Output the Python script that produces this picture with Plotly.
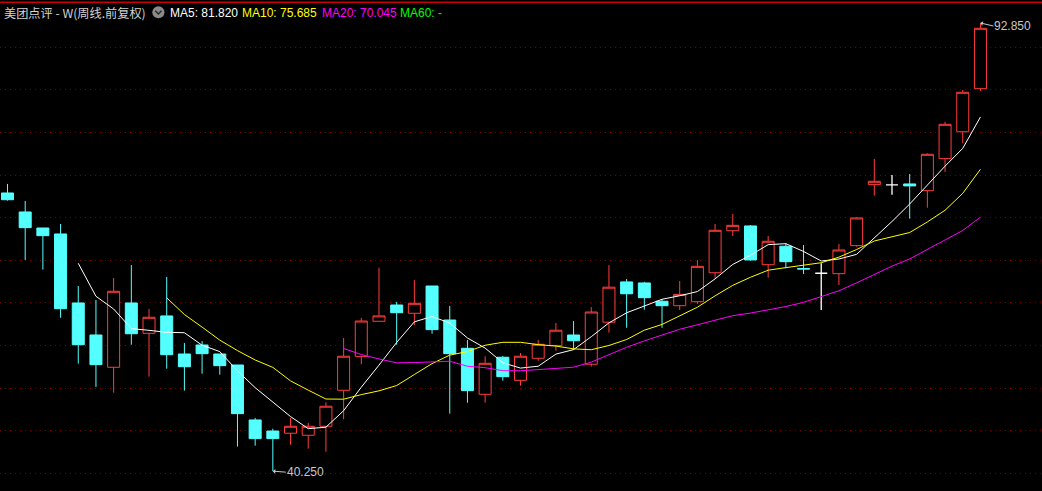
import plotly.graph_objects as go
import pandas as pd

# ---- data (weekly candles, pre-adjusted) ----
idx = list(range(56))
opens = [72.90, 70.67, 68.79, 68.09, 59.99, 56.23, 52.44, 59.99, 56.43, 58.47,
         54.00, 55.06, 54.00, 52.71, 46.26, 44.96, 44.70, 44.46, 45.52, 49.74,
         53.69, 57.84, 59.75, 58.78, 61.98, 57.99, 54.67, 49.27, 53.62, 50.91,
         53.50, 54.98, 56.23, 52.80, 57.73, 62.46, 62.34, 60.19, 59.67, 60.14,
         63.54, 68.47, 69.03, 64.48, 66.65, 64.03, 63.48, 63.43, 66.72, 73.88,
         73.84, 73.96, 73.17, 76.93, 80.09, 85.14]
highs = [73.96, 71.96, 68.79, 69.26, 61.98, 60.34, 62.92, 64.44, 59.29, 63.04,
         55.30, 55.52, 54.00, 52.71, 46.50, 45.23, 46.50, 45.90, 48.33, 55.88,
         58.23, 64.13, 60.11, 62.69, 61.98, 59.63, 55.64, 53.74, 53.77, 54.12,
         55.64, 57.64, 57.87, 59.51, 64.44, 62.80, 62.46, 60.42, 62.57, 65.04,
         69.26, 70.43, 69.14, 67.85, 66.99, 66.79, 64.65, 66.91, 70.08, 76.89,
         75.01, 75.13, 77.56, 81.24, 84.99, 92.85]
lows = [72.00, 65.04, 63.90, 58.26, 52.87, 50.13, 49.46, 55.09, 51.34, 52.27,
        49.70, 51.69, 51.57, 43.13, 43.24, 40.25, 43.35, 42.89, 42.53, 46.34,
        52.80, 57.84, 55.09, 57.37, 56.38, 47.00, 48.28, 48.28, 50.87, 50.28,
        53.21, 54.39, 54.48, 52.51, 56.50, 57.08, 59.20, 57.08, 59.17, 59.87,
        62.88, 67.85, 64.96, 62.96, 64.06, 63.40, 59.17, 62.10, 66.60, 72.58,
        72.70, 69.89, 71.17, 75.37, 78.74, 84.87]
closes = [72.11, 68.83, 67.89, 59.32, 55.09, 52.75, 61.36, 56.38, 58.31, 53.92,
          52.51, 54.04, 52.63, 47.00, 44.07, 44.07, 45.52, 45.52, 47.87, 53.74,
          57.87, 58.47, 58.85, 59.95, 56.86, 54.04, 49.70, 52.91, 51.34, 53.74,
          55.14, 56.79, 55.56, 58.93, 61.84, 61.07, 60.61, 59.67, 61.00, 64.29,
          68.52, 69.10, 65.04, 67.23, 64.84, 63.98, 63.48, 66.21, 69.97, 74.27,
          73.84, 73.73, 77.44, 80.96, 84.72, 92.23]

title_text = "美团点评 - W(周线.前复权)"
ma_labels = ["MA5: 81.820", "MA10: 75.685", "MA20: 70.045", "MA60: -"]
high_label = "92.850"
low_label = "40.250"
grid_levels = [40, 45, 50, 55, 60, 65, 70, 75, 80, 85, 90]

RED = "#ff3c3c"
CYAN = "#54ffff"
W, H = 1042, 491

df = pd.DataFrame({"x": idx, "o": opens, "h": highs, "l": lows, "c": closes})
ma5 = df["c"].rolling(5).mean()
ma10 = df["c"].rolling(10).mean()
ma20 = df["c"].rolling(20).mean()

doji = df[df["o"] == df["c"]]
main = df[df["o"] != df["c"]]

fig = go.Figure()
fig.add_trace(go.Candlestick(
    x=main["x"], open=main["o"], high=main["h"], low=main["l"], close=main["c"],
    increasing=dict(line=dict(color=RED, width=1), fillcolor="#000000"),
    decreasing=dict(line=dict(color=CYAN, width=1), fillcolor=CYAN),
    whiskerwidth=0, showlegend=False, hoverinfo="skip"))
fig.add_trace(go.Candlestick(
    x=doji["x"], open=doji["o"], high=doji["h"], low=doji["l"], close=doji["c"],
    increasing=dict(line=dict(color="#ffffff", width=1.3), fillcolor="#ffffff"),
    decreasing=dict(line=dict(color="#ffffff", width=1.3), fillcolor="#ffffff"),
    whiskerwidth=0, showlegend=False, hoverinfo="skip"))

for s, col in [(ma5, "#ffffff"), (ma10, "#ffff00"), (ma20, "#ff00ff")]:
    fig.add_trace(go.Scatter(x=idx, y=s, mode="lines",
                             line=dict(color=col, width=1),
                             showlegend=False, hoverinfo="skip"))

def px_x(p):
    return p / W

def px_y(p):
    return 1 - p / H

shapes = [
    dict(type="line", xref="paper", yref="paper", x0=0, x1=1,
         y0=px_y(2.3), y1=px_y(2.3), line=dict(color="#c80000", width=1.5)),
    dict(type="circle", xref="paper", yref="paper",
         x0=px_x(152.3), x1=px_x(164.5), y0=px_y(18.3), y1=px_y(6.3),
         fillcolor="#8a8a8a", line=dict(width=0)),
    dict(type="path", xref="paper", yref="paper",
         path=f"M {px_x(155.3)},{px_y(10.8)} L {px_x(158.4)},{px_y(14)} L {px_x(161.5)},{px_y(10.8)}",
         line=dict(color="#2a2a2a", width=1.5)),
]

ann = [
    dict(text=title_text, x=px_x(2), y=px_y(12.5), xref="paper", yref="paper",
         xanchor="left", yanchor="middle", showarrow=False,
         font=dict(family="Noto Sans CJK SC", size=12.2, color="#d2d2d2")),
]
for lab, xpos, col in zip(ma_labels, [168, 240, 320, 398],
                          ["#ffffff", "#ffff00", "#ff00ff", "#00ff00"]):
    ann.append(dict(text=lab, x=px_x(xpos), y=px_y(12.5), xref="paper", yref="paper",
                    xanchor="left", yanchor="middle", showarrow=False,
                    font=dict(family="Liberation Sans", size=12, color=col)))

hi_i = highs.index(max(highs))
lo_i = lows.index(min(lows))
for lab, xi, yv, ay in [(high_label, hi_i, max(highs), 3), (low_label, lo_i, min(lows), 1)]:
    ann.append(dict(text=lab, x=xi, y=yv, xref="x", yref="y",
                    showarrow=True, ax=13, ay=ay, xanchor="left", yanchor="middle",
                    arrowhead=1, arrowsize=0.8, arrowwidth=1, arrowcolor="#c8c8c8",
                    standoff=0, startstandoff=0, borderpad=0,
                    font=dict(family="Liberation Sans", size=12, color="#c8c8c8")))

fig.update_layout(
    width=W, height=H, margin=dict(l=0, r=0, t=0, b=0),
    paper_bgcolor="#000000", plot_bgcolor="#000000",
    boxgap=0.3, boxgroupgap=0.03,
    shapes=shapes, annotations=ann, showlegend=False,
    xaxis=dict(range=[-0.424, 58.48], visible=False, rangeslider=dict(visible=False),
               showgrid=False, zeroline=False, fixedrange=True),
    yaxis=dict(range=[37.92, 95.55], showticklabels=False, ticks="",
               tickmode="array", tickvals=grid_levels, showgrid=True,
               gridcolor="#7a0000", gridwidth=1, griddash="1px,4px",
               zeroline=False, showline=False, fixedrange=True),
)

fig.write_html("out.html", config={"displayModeBar": False},
               post_script="document.body.style.margin='0';document.body.style.background='#000';")
